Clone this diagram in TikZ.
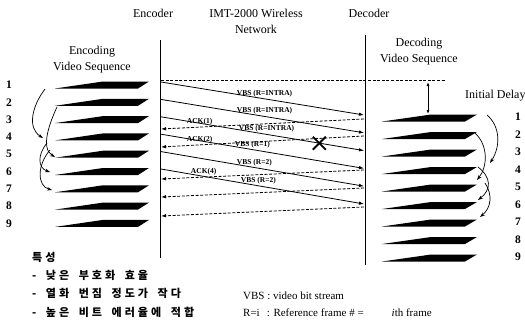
\documentclass[tikz,border=0pt]{standalone}
\usepackage{fontspec}
\setmainfont{Liberation Serif}
\newfontfamily\kfont{Noto Sans CJK KR}[LetterSpace=28, WordSpace=1.7]
\usetikzlibrary{arrows.meta}

\begin{document}
\begin{tikzpicture}[x=1pt, y=-1pt,
        hdr/.style={font=\fontsize{12}{16}\selectfont, inner sep=0pt},
        num/.style={font=\bfseries\fontsize{11.5}{12}\selectfont, inner sep=0pt},
        lbl/.style={font=\bfseries\fontsize{7.5}{8}\selectfont, inner sep=0.5pt},
        note/.style={font=\fontsize{11}{12}\selectfont, inner sep=0pt, anchor=west},
        kor/.style={font=\kfont\bfseries\fontsize{11}{12}\selectfont, inner sep=0pt, anchor=west},
        life/.style={line width=0.9pt},
        vbs/.style={line width=0.8pt, -{Latex[length=5pt,width=3.5pt]}},
        ack/.style={line width=0.8pt, dash pattern=on 3pt off 1.6pt, -{Latex[length=5pt,width=3.5pt]}},
        refarr/.style={line width=0.7pt, -{Stealth[length=5pt,width=3.5pt]}}]
            \useasboundingbox (0,0) rectangle (525,324);
            \node[hdr] (enc) at (153,13) {Encoder};
            \node[hdr, align=center] (net) at (256,21) {IMT-2000 Wireless\\Network};
            \node[hdr] (dec) at (369,13) {Decoder};
            \node[hdr, align=center] (encseq) at (92,60) {Encoding\\Video Sequence};
            \node[hdr, align=center] (decseq) at (419,52) {Decoding\\Video Sequence};
            \node[hdr, anchor=west] (delay) at (465,96) {Initial Delay};
            \coordinate (enctop) at (160.5,40);
            \coordinate (encbot) at (160.5,258);
            \coordinate (dectop) at (365,35);
            \coordinate (decbot) at (365,265);
            \draw[life] (enctop) -- (encbot);
            \draw[life] (dectop) -- (decbot);
            \foreach \i in {1,...,9} {
                \pgfmathsetmacro\yl{85+17.3*(\i-1)}
                \pgfmathsetmacro\yr{118+17.5*(\i-1)}
                \fill (55,\yl+3.5) -- (138,\yl+3.5) -- (149,\yl-3.5) -- (103,\yl-3.5) -- cycle;
                \fill (382,\yr+3.5) -- (465,\yr+3.5) -- (477,\yr-3.5) -- (431,\yr-3.5) -- cycle;
                \node[num] (l\i) at (9,\yl) {\i};
                \node[num] (r\i) at (518,\yr-1) {\i};
            }
            \coordinate (s0) at (161,80);
            \coordinate (delayend) at (445,80);
            \coordinate (delaytop) at (428,82);
            \coordinate (delaybot) at (428,114);
            \draw[line width=0.6pt, dash pattern=on 3pt off 1.6pt] (s0) -- (delayend);
            \draw[line width=0.8pt, {Latex[length=4pt,width=3pt]}-{Latex[length=4pt,width=3pt]}] (delaytop) -- (delaybot);
            \foreach \k in {1,...,6} {
                \coordinate (s\k) at (161,82+17.4*\k-17.4);
                \coordinate (t\k) at (364,115+17.8*\k-17.8);
            }
            \coordinate (u1) at (364,119);
            \coordinate (v1) at (161,129);
            \coordinate (u2) at (364,136);
            \coordinate (v2) at (161,147);
            \coordinate (u4) at (364,170);
            \coordinate (v4) at (161,179);
            \coordinate (u5) at (364,188);
            \coordinate (v5) at (161,197);
            \coordinate (u6) at (364,207);
            \coordinate (v6) at (161,216);
            \draw[vbs] (s1) -- node[lbl, above=1pt, pos=.51] {VBS (R=INTRA)} (t1);
            \draw[vbs] (s2) -- node[lbl, above=1pt, pos=.51] {VBS (R=INTRA)} (t2);
            \draw[vbs] (s3) -- node[lbl, above=1pt, pos=.52] {VBS (R=INTRA)} coordinate[pos=.78] (lost) (t3);
            \draw[vbs] (s4) -- node[lbl, above=1pt, pos=.45] {VBS (R=1)} (t4);
            \draw[vbs] (s5) -- node[lbl, above=1pt, pos=.46] {VBS (R=2)} (t5);
            \draw[vbs] (s6) -- node[lbl, above=1pt, pos=.48] {VBS (R=2)} (t6);
            \draw[ack] (u1) -- node[lbl, above=1pt, pos=.81] {ACK(1)} (v1);
            \draw[ack] (u2) -- node[lbl, above=1pt, pos=.81] {ACK(2)} (v2);
            \draw[ack] (u4) -- node[lbl, above=1pt, pos=.79] {ACK(4)} (v4);
            \draw[ack] (u5) -- (v5);
            \draw[ack] (u6) -- (v6);
            \draw[line width=1.8pt] ([shift={(-6.5,-6.5)}]lost) -- ([shift={(6.5,6.5)}]lost);
            \draw[line width=1.8pt] ([shift={(-6.5,6.5)}]lost) -- ([shift={(6.5,-6.5)}]lost);
            \coordinate (a1) at (45,89);
            \coordinate (a4) at (43,138);
            \coordinate (a2) at (57,107);
            \coordinate (a5) at (55,157);
            \coordinate (b4) at (47,143);
            \coordinate (a6) at (50,172);
            \coordinate (b5) at (50,150);
            \coordinate (a7) at (52,190);
            \draw[refarr] (a1) .. controls (32,106) and (27,128) .. (a4);
            \draw[refarr] (a2) .. controls (50,122) and (40,148) .. (a5);
            \draw[refarr] (b4) .. controls (37,155) and (38,168) .. (a6);
            \draw[refarr] (b5) .. controls (37,165) and (37,186) .. (a7);
            \coordinate (c1) at (487,115);
            \coordinate (c4) at (490,163);
            \coordinate (c2) at (475,133);
            \coordinate (c5) at (477,180);
            \coordinate (d4) at (478,167);
            \coordinate (c6) at (478,200);
            \coordinate (d5) at (485,183);
            \coordinate (c7) at (480,217);
            \draw[refarr] (c1) .. controls (500,126) and (501,146) .. (c4);
            \draw[refarr] (c2) .. controls (488,145) and (488,166) .. (c5);
            \draw[refarr] (d4) .. controls (492,178) and (491,190) .. (c6);
            \draw[refarr] (d5) .. controls (493,195) and (491,208) .. (c7);
            \node[kor] (feat) at (32,257) {특성};
            \node[kor] (feat1) at (32,275) {- 낮은 부호화 효율};
            \node[kor] (feat2) at (32,293) {- 열화 번짐 정도가 작다};
            \node[kor] (feat3) at (32,312) {- 높은 비트 에러율에 적합};
            \node[note] (vbsdef) at (243,296) {VBS : video bit stream};
            \node[note] (refdef) at (243,313) {R=i\hspace{7pt}: Reference frame \# =\hspace{28pt}\textit{i}th frame};
        \end{tikzpicture}
\end{document}
